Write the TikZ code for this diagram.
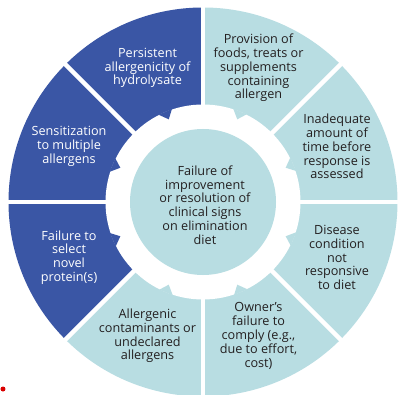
\documentclass[tikz,border=0pt]{standalone}
\usepackage{fontspec}
\setmainfont{Open Sans}
\definecolor{ringdark}{RGB}{58,86,165}
\definecolor{ringlight}{RGB}{184,221,226}
\definecolor{inktext}{RGB}{35,31,32}
\tikzset{
  cause/.style={align=center,text=inktext,font=\fontsize{9}{9.8}\selectfont,inner sep=0pt},
  causedark/.style={cause,text=white},
}
\begin{document}
\begin{tikzpicture}[x=0.025cm,y=0.025cm]
                \useasboundingbox (-203,-192) rectangle (196,202);
                % ring sectors
                \fill[ringlight] (0,0) -- (0:194.5) arc (0:90:194.5) -- cycle;
                \fill[ringdark] (0,0) -- (90:194.5) arc (90:225:194.5) -- cycle;
                \fill[ringlight] (0,0) -- (225:194.5) arc (225:360:194.5) -- cycle;
                \foreach \a in {0,45,...,315}
                    \draw[white,line width=3.2pt] (0,0) -- (\a:200);
                % white band round the centre, with a tooth of each sector
                \fill[white] (0,0) circle (97.5);
                \foreach \a/\c in {22.5/ringlight,67.5/ringlight,112.5/ringdark,157.5/ringdark,
                                   202.5/ringdark,247.5/ringlight,292.5/ringlight,337.5/ringlight}
                    \fill[\c] (\a+4.5:98) -- (\a:89.5) -- (\a-4:98) -- cycle;
                \node[circle,fill=ringlight,minimum size=146*0.025cm,inner sep=0pt] (C) at (0,0) {};
                \node[cause] (c0) at (2,-3) {Failure of\\improvement\\or resolution of\\clinical signs\\on elimination\\diet};
                \node[cause] (c1) at (67.5:145) {Provision of\\foods, treats or\\supplements\\containing\\allergen};
                \node[causedark] (c2) at (112.5:145) {Persistent\\allergenicity of\\hydrolysate};
                \node[causedark] (c3) at (157.5:145) {Sensitization\\to multiple\\allergens};
                \node[causedark] (c4) at (202.5:145) {Failure to\\select\\novel\\protein(s)};
                \node[cause] (c5) at (247.5:145) {Allergenic\\contaminants or\\undeclared\\allergens};
                \node[cause] (c6) at (292.5:145) {Owner's\\failure to\\comply (e.g.,\\due to effort,\\cost)};
                \node[cause] (c7) at (337.5:145) {Disease\\condition\\not\\responsive\\to diet};
                \node[cause] (c8) at (22.5:145) {Inadequate\\amount of\\time before\\response is\\assessed};
                \fill[red!85!black] (-200,-187) circle (2.5);
            \end{tikzpicture}
\end{document}
